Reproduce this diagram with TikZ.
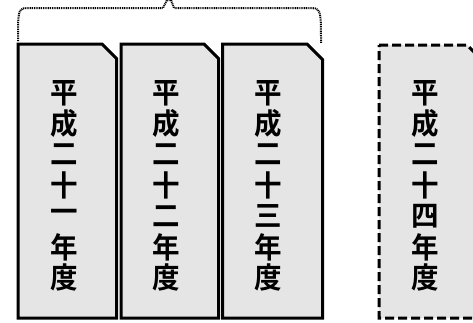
\documentclass[tikz,border=0pt]{standalone}
\usepackage{fontspec}
\newfontfamily\cjk{Noto Sans CJK JP}[BoldFont={Noto Sans CJK JP Bold}]
\tikzset{
  yearbox/.style={draw=black, line width=3pt, fill=gray!20, line join=miter},
  planbox/.style={yearbox, dash pattern=on 9pt off 4pt},
  yearchar/.style={inner sep=0pt, font=\cjk\bfseries\fontsize{27.5}{27.5}\selectfont},
  bracket/.style={draw=black, line width=2pt, dash pattern=on 1pt off 0.8pt}
}
\newcommand{\yearcol}[3]{% x, name, digit
  \foreach \c [count=\i] in {平,成,二,十,#3,年,度}
    \node[yearchar](#2-\i) at (#1,{93+30.8*(\i-1)}){\scalebox{1}[1.06]{\c}};}
\begin{document}
\begin{tikzpicture}[x=1pt,y=-1pt]
  \useasboundingbox (0,0) rectangle (473,322);
  % three past years
  \draw[yearbox] (18,44) -- (102,44) -- (116.5,58.5) -- (116.5,318) -- (18,318) -- cycle;
  \draw[yearbox] (121,44) -- (204,44) -- (218.5,58.5) -- (218.5,318) -- (121,318) -- cycle;
  \draw[yearbox] (222.5,44) -- (307,44) -- (322.5,59.5) -- (322.5,318) -- (222.5,318) -- cycle;
  % next year
  \draw[planbox] (379,45) -- (467,45) -- (482,60) -- (482,318) -- (379,318) -- cycle;

  \yearcol{64}{y21}{一}
  \yearcol{166}{y22}{二}
  \yearcol{268}{y23}{三}
  \yearcol{425}{y24}{四}

  % dotted brace over the three past years
  \coordinate (braceL) at (18,41);
  \coordinate (braceR) at (321,43);
  \draw[bracket] (braceL) .. controls (18,8) .. (30,8) -- (163,8) -- (167,0) -- (171,0) -- (174,8)
    -- (308,8) .. controls (321,8) .. (braceR);
\end{tikzpicture}
\end{document}
